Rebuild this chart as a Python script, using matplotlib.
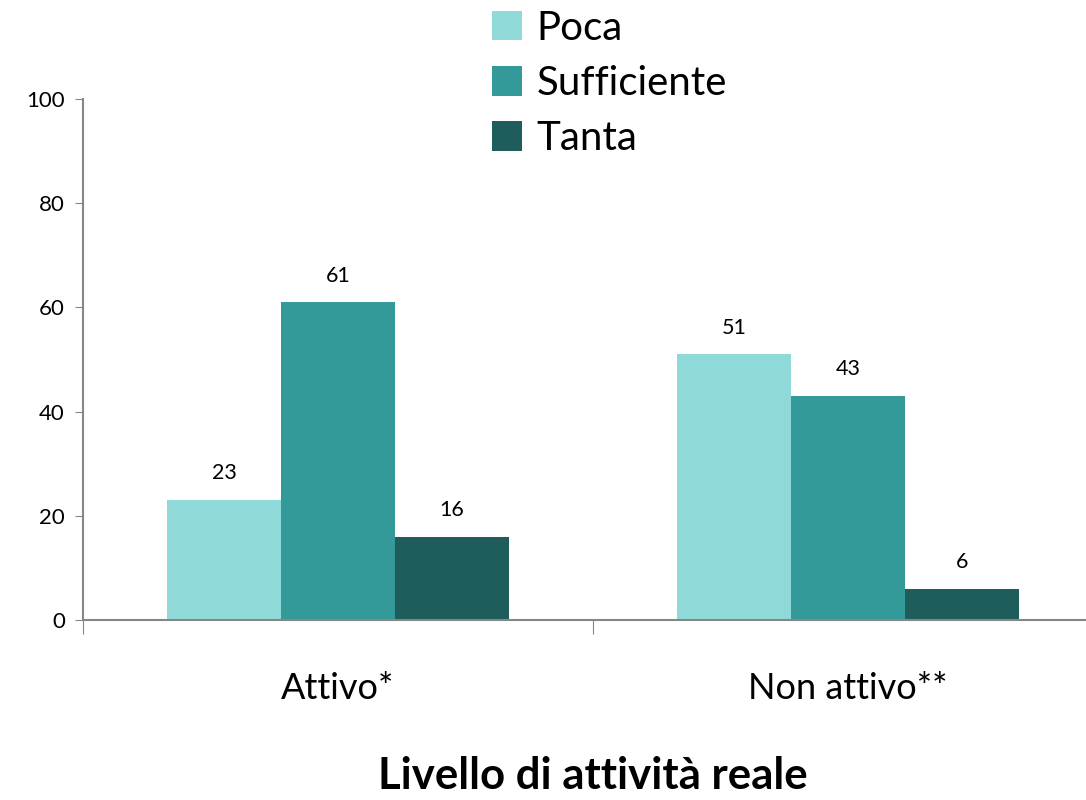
import numpy as np
import matplotlib.pyplot as plt
from matplotlib.transforms import blended_transform_factory

plt.rcParams['font.family'] = ['Lato', 'DejaVu Sans']

categorie = ["Attivo*", "Non attivo**"]
serie = ["Poca", "Sufficiente", "Tanta"]
valori = {
    "Poca": [23, 51],
    "Sufficiente": [61, 43],
    "Tanta": [16, 6],
}
colori = ["#8FDAD8", "#339A99", "#1F5C5C"]

fig = plt.figure(figsize=(10.86, 8), dpi=100)
# axes: left at px 83, y=0 at px 620, y=100 at px 99
ax = fig.add_axes([83 / 1086, 1 - 620 / 800, 1020 / 1086, 521 / 800])

x = np.arange(len(categorie))
width = 0.223
for i, (nome, col) in enumerate(zip(serie, colori)):
    pos = x + (i - 1) * width
    ax.bar(pos, valori[nome], width, color=col, label=nome)
    for xx, v in zip(pos, valori[nome]):
        ax.text(xx, v + 3.2, str(v), ha='center', va='bottom', fontsize=15.5)

ax.set_xlim(-0.5, 1.5)
ax.set_ylim(0, 100)
ax.set_yticks(range(0, 101, 20))
ax.tick_params(axis='y', labelsize=16, length=6, color='#868686', pad=7)
ax.set_xticks([-0.5, 0.5])
ax.set_xticklabels([])
ax.tick_params(axis='x', length=10, color='#868686')
for xx, lab in zip(x, categorie):
    ax.text(xx, -13.2, lab, ha='center', va='center', fontsize=26,
            transform=ax.transData, clip_on=False)

for s in ['top', 'right']:
    ax.spines[s].set_visible(False)
for s in ['left', 'bottom']:
    ax.spines[s].set_color('#868686')
    ax.spines[s].set_linewidth(1.5)

# title centred under the plot area
trans = blended_transform_factory(ax.transAxes, fig.transFigure)
ax.text(0.5, 1 - 776 / 800, "Livello di attività reale", ha='center', va='center',
        fontsize=31.5, fontweight='bold', transform=trans)

ax.legend(loc='upper left', bbox_to_anchor=(476 / 1086, 1.008), bbox_transform=fig.transFigure,
          frameon=False, fontsize=29, handlelength=0.75, handleheight=0.75,
          handletextpad=0.35, labelspacing=0.45, borderaxespad=0.0)

fig.savefig("out.png", dpi=100)
